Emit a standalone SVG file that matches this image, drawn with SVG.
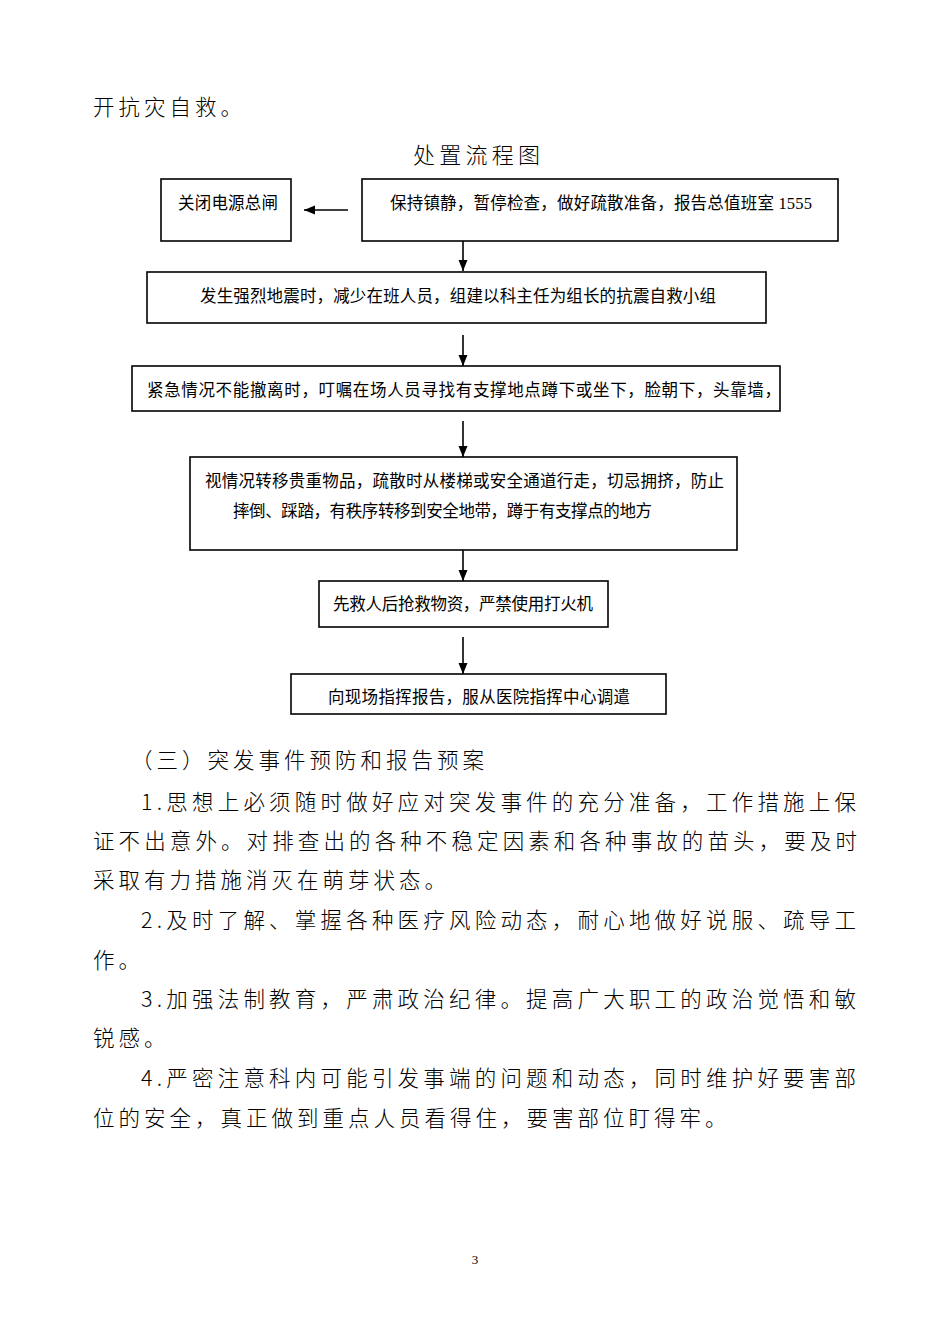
<svg xmlns="http://www.w3.org/2000/svg" width="950" height="1344" viewBox="0 0 950 1344">
<style>
.bg{fill:#fff}
.box{fill:#fff;stroke:#000;stroke-width:1.6}
.ft{font-family:"Liberation Serif","Noto Sans CJK SC",serif;font-size:16.5px;fill:#000}
.body{font-family:"Noto Sans CJK SC",sans-serif;font-size:21.5px;font-weight:300;fill:#000;letter-spacing:4px}
.bodyj{font-family:"Noto Sans CJK SC",sans-serif;font-size:21.5px;font-weight:300;fill:#000}
.title{font-family:"Noto Sans CJK SC",sans-serif;font-size:22px;font-weight:300;fill:#000}
.pg{font-family:"Liberation Serif",serif;font-size:13px;fill:#000}
.conn{stroke:#000;stroke-width:1.6;fill:none;marker-end:url(#ah)}
</style>
<defs>
<marker id="ah" markerUnits="userSpaceOnUse" markerWidth="12" markerHeight="12" viewBox="0 0 12 12" refX="11" refY="6" orient="auto">
<path d="M0,1.5 L11,6 L0,10.5 Z" fill="#000"/>
</marker>
</defs>
<rect class="bg" x="0" y="0" width="950" height="1344"/>

<g id="intro">
<text class="body" x="93" y="115">开抗灾自救。</text>
<text class="title" x="413" y="163" textLength="127">处置流程图</text>
</g>

<g id="connectors">
<line class="conn" x1="348" y1="210" x2="304" y2="210"/>
<line class="conn" x1="463" y1="241" x2="463" y2="271"/>
<line class="conn" x1="463" y1="335" x2="463" y2="366"/>
<line class="conn" x1="463" y1="421" x2="463" y2="457"/>
<line class="conn" x1="463" y1="550" x2="463" y2="581"/>
<line class="conn" x1="463" y1="637" x2="463" y2="674"/>
</g>

<g id="n1">
<rect class="box" x="161" y="179" width="130" height="62"/>
<text class="ft" x="178" y="209" textLength="100">关闭电源总闸</text>
</g>
<g id="n2">
<rect class="box" x="362" y="179" width="476" height="62"/>
<text class="ft" x="390" y="209" textLength="422">保持镇静，暂停检查，做好疏散准备，报告总值班室 1555</text>
</g>
<g id="n3">
<rect class="box" x="147" y="272" width="619" height="51"/>
<text class="ft" x="200" y="302" textLength="516">发生强烈地震时，减少在班人员，组建以科主任为组长的抗震自救小组</text>
</g>
<g id="n4">
<rect class="box" x="132" y="366" width="648" height="45"/>
<text class="ft" x="147" y="396" textLength="634">紧急情况不能撤离时，叮嘱在场人员寻找有支撑地点蹲下或坐下，脸朝下，头靠墙，</text>
</g>
<g id="n5">
<rect class="box" x="190" y="457" width="547" height="93"/>
<text class="ft" x="205" y="487" textLength="519">视情况转移贵重物品，疏散时从楼梯或安全通道行走，切忌拥挤，防止</text>
<text class="ft" x="233" y="517" textLength="419">摔倒、踩踏，有秩序转移到安全地带，蹲于有支撑点的地方</text>
</g>
<g id="n6">
<rect class="box" x="319" y="581" width="289" height="46"/>
<text class="ft" x="333" y="610" textLength="260">先救人后抢救物资，严禁使用打火机</text>
</g>
<g id="n7">
<rect class="box" x="291" y="674" width="375" height="40"/>
<text class="ft" x="328" y="703" textLength="302">向现场指挥报告，服从医院指挥中心调遣</text>
</g>

<g id="bodytext">
<text class="body" x="131" y="768">（三）突发事件预防和报告预案</text>
<text class="bodyj" x="141" y="810" textLength="715">1.思想上必须随时做好应对突发事件的充分准备，工作措施上保</text>
<text class="bodyj" x="93" y="849" textLength="764">证不出意外。对排查出的各种不稳定因素和各种事故的苗头，要及时</text>
<text class="body" x="93" y="888">采取有力措施消灭在萌芽状态。</text>
<text class="bodyj" x="141" y="928" textLength="715">2.及时了解、掌握各种医疗风险动态，耐心地做好说服、疏导工</text>
<text class="body" x="93" y="968">作。</text>
<text class="bodyj" x="141" y="1007" textLength="715">3.加强法制教育，严肃政治纪律。提高广大职工的政治觉悟和敏</text>
<text class="body" x="93" y="1046">锐感。</text>
<text class="bodyj" x="141" y="1086" textLength="715">4.严密注意科内可能引发事端的问题和动态，同时维护好要害部</text>
<text class="body" x="93" y="1126">位的安全，真正做到重点人员看得住，要害部位盯得牢。</text>
<text class="pg" x="475" y="1264" text-anchor="middle">3</text>
</g>
</svg>
